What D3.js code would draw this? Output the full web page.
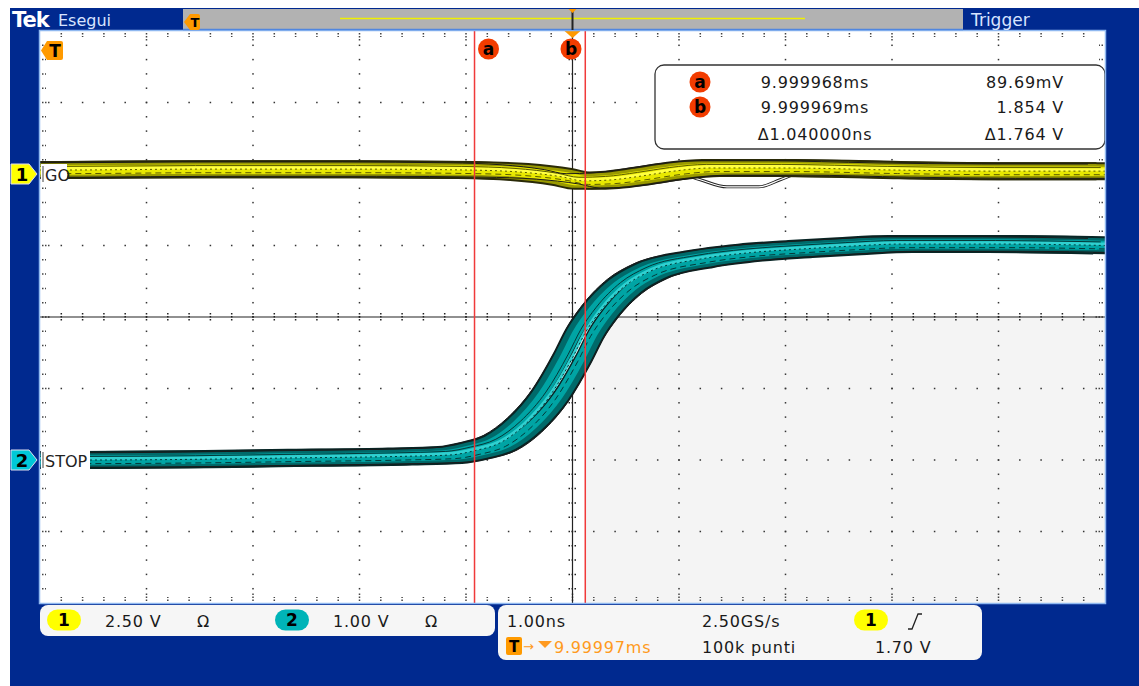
<!DOCTYPE html>
<html>
<head>
<meta charset="utf-8">
<script src="https://cdn.jsdelivr.net/npm/d3@7"></script>
<style>
  html, body { margin: 0; padding: 0; background: #fff; }
  svg text { font-family: "DejaVu Sans", sans-serif; }
</style>
</head>
<body>
<div class="scope"></div>
<script>
'use strict';

// ---- data (time in ns from trigger, volts) ----
var ch1Times = [-5.0, -4.75, -3.5, -2.0, -1.0, -0.5, -0.1, 0.1, 0.35, 0.65, 0.95, 1.3, 2.0, 3.0, 4.0, 5.0];
var ch1Volts = [0.14, 0.14, 0.17, 0.17, 0.14, 0.07, -0.10, -0.24, -0.21, -0.07, 0.10, 0.21, 0.21, 0.14, 0.10, 0.10];

// one stray acquisition under the GO band
var ch1GhostTimes = [1.0, 1.2, 1.45, 1.75, 1.95, 2.1];
var ch1GhostVolts = [0.05, -0.2, -0.45, -0.45, -0.2, 0.02];

var ch2Times = [-5.0, -4.53, -3.5, -2.56, -1.62, -1.15, -0.92, -0.68, -0.45, -0.21, 0.0, 0.12, 0.26, 0.49, 0.73, 1.2, 1.67, 2.14, 2.6, 3.08, 4.01, 5.0];
var ch2Volts = [0.0, 0.0, 0.01, 0.03, 0.05, 0.07, 0.13, 0.24, 0.49, 0.90, 1.43, 1.78, 2.08, 2.43, 2.64, 2.81, 2.90, 2.95, 2.99, 3.02, 3.02, 3.00];

var cursorTimes = [-0.92, 0.12];           // a, b
var cursorNames = ['a', 'b'];
var cursorTimeText = ['9.999968ms', '9.999969ms', '\u03941.040000ns'];
var cursorVoltText = ['89.69mV', '1.854 V', '\u03941.764 V'];

var channelNames = ['GO', 'STOP'];
var channelScale = [2.50, 1.00];            // V/div
var channelPos = [2.0, -2.0];              // div offset
var channelText = ['2.50 V', '1.00 V'];

var horizText = ['1.00ns', '2.50GS/s'];
var recordText = ['9.99997ms', '100k punti'];
var triggerLevelText = '1.70 V';

// ---- layout ----
var W = 1139, H = 686;
var plot = {x0: 40, x1: 1105, y0: 31, y1: 603};
var blue = '#00298f';

var x = d3.scaleLinear().domain([-5, 5]).range([plot.x0, plot.x1]);
var ydiv = d3.scaleLinear().domain([-4, 4]).range([plot.y1, plot.y0]);
function yCh(c) {
  return function(v) { return ydiv(v / channelScale[c] + channelPos[c]); };
}

var svg = d3.select('.scope').append('svg')
  .attr('width', W)
  .attr('height', H);

// frame
svg.append('rect').attr('x', 10).attr('y', 8).attr('width', W - 10).attr('height', H - 8).attr('fill', blue);
svg.append('rect')
  .attr('x', plot.x0).attr('y', plot.y0)
  .attr('width', plot.x1 - plot.x0).attr('height', plot.y1 - plot.y0)
  .attr('fill', '#fff');
svg.append('rect')
  .attr('x', x(cursorTimes[1])).attr('y', ydiv(0))
  .attr('width', plot.x1 - x(cursorTimes[1])).attr('height', plot.y1 - ydiv(0))
  .attr('fill', '#f4f4f4');

svg.append('defs').append('clipPath').attr('id', 'plotclip')
  .append('rect')
  .attr('x', plot.x0).attr('y', plot.y0)
  .attr('width', plot.x1 - plot.x0).attr('height', plot.y1 - plot.y0);

// ---- graticule ----
var grid = svg.append('g').attr('fill', '#333');
var minorX = d3.range(-25, 26).map(function(i) { return i / 5; });
var minorY = d3.range(-20, 21).map(function(i) { return i / 5; });
var majorX = d3.range(-4, 5).filter(function(v) { return v !== 0; });
var majorY = d3.range(-3, 4).filter(function(v) { return v !== 0; });

majorX.forEach(function(t) {
  grid.selectAll(null).data(minorY.slice(1, -1)).enter().append('rect')
    .attr('x', x(t) - 0.75).attr('y', function(d) { return ydiv(d) - 0.75; })
    .attr('width', 1.5).attr('height', 1.5);
});
majorY.forEach(function(dv) {
  grid.selectAll(null).data(minorX.slice(1, -1)).enter().append('rect')
    .attr('x', function(d) { return x(d) - 0.75; }).attr('y', ydiv(dv) - 0.75)
    .attr('width', 1.5).attr('height', 1.5);
});

// edge ticks (dotted)
var ticks = svg.append('g').attr('stroke', '#444').attr('stroke-width', 1.5).attr('stroke-dasharray', '1.5,1.5');
function isMajor(v) { return Math.abs(v - Math.round(v)) < 1e-6; }
ticks.selectAll(null).data(minorX.slice(1, -1)).enter().append('line')
  .attr('x1', function(d) { return x(d); }).attr('x2', function(d) { return x(d); })
  .attr('y1', plot.y0 + 2).attr('y2', function(d) { return plot.y0 + (isMajor(d) ? 11 : 6); });
ticks.selectAll(null).data(minorX.slice(1, -1)).enter().append('line')
  .attr('x1', function(d) { return x(d); }).attr('x2', function(d) { return x(d); })
  .attr('y1', plot.y1 - 2).attr('y2', function(d) { return plot.y1 - (isMajor(d) ? 11 : 6); });
ticks.selectAll(null).data(minorY.slice(1, -1)).enter().append('line')
  .attr('y1', function(d) { return ydiv(d); }).attr('y2', function(d) { return ydiv(d); })
  .attr('x1', plot.x0 + 2).attr('x2', function(d) { return plot.x0 + (isMajor(d) ? 11 : 6); });
ticks.selectAll(null).data(minorY.slice(1, -1)).enter().append('line')
  .attr('y1', function(d) { return ydiv(d); }).attr('y2', function(d) { return ydiv(d); })
  .attr('x1', plot.x1 - 2).attr('x2', function(d) { return plot.x1 - (isMajor(d) ? 11 : 6); });

// centre crosshair
var cross = svg.append('g').attr('stroke', '#222');
cross.append('line').attr('x1', plot.x0).attr('x2', plot.x1).attr('y1', ydiv(0)).attr('y2', ydiv(0)).attr('stroke-width', 1.2);
cross.append('line').attr('y1', plot.y0).attr('y2', plot.y1).attr('x1', x(0)).attr('x2', x(0)).attr('stroke-width', 1.2);
cross.selectAll(null).data(minorX.slice(1, -1)).enter().append('line')
  .attr('x1', function(d) { return x(d); }).attr('x2', function(d) { return x(d); })
  .attr('y1', ydiv(0) - 4).attr('y2', ydiv(0) + 4)
  .attr('stroke-dasharray', '1.5,1.5').attr('stroke-width', 1.5);
cross.selectAll(null).data(minorY.slice(1, -1)).enter().append('line')
  .attr('y1', function(d) { return ydiv(d); }).attr('y2', function(d) { return ydiv(d); })
  .attr('x1', x(0) - 4).attr('x2', x(0) + 4)
  .attr('stroke-dasharray', '1.5,1.5').attr('stroke-width', 1.5);

// ---- traces ----
var traces = svg.append('g').attr('clip-path', 'url(#plotclip)').attr('fill', 'none');

function tracePath(times, volts, c, dt, dv) {
  var yc = yCh(c);
  return d3.line()
    .x(function(d) { return x(d[0] + dt); })
    .y(function(d) { return yc(d[1] + dv); })
    .curve(d3.curveMonotoneX)(d3.zip(times, volts));
}

function drawBand(times, volts, c, cols, spread) {
  function path(dt, dv) { return tracePath(times, volts, c, dt, dv * channelScale[c]); }
  [-spread, spread].forEach(function(dt) {
    traces.append('path').attr('d', path(dt, 0)).attr('stroke', cols.edge).attr('stroke-width', 18);
  });
  [-spread, spread].forEach(function(dt) {
    traces.append('path').attr('d', path(dt, 0)).attr('stroke', cols.dark).attr('stroke-width', 14);
  });
  [-spread * 0.7, spread * 0.7].forEach(function(dt) {
    traces.append('path').attr('d', path(dt, 0)).attr('stroke', cols.fill).attr('stroke-width', 9);
  });
  traces.append('path').attr('d', path(0, 0.02)).attr('stroke', cols.light).attr('stroke-width', 3);
  [[-0.04, 0.05], [0.05, -0.05], [0.0, 0.0]].forEach(function(o, i) {
    traces.append('path').attr('d', path(o[0], o[1]))
      .attr('stroke', cols.line).attr('stroke-width', 1)
      .attr('stroke-dasharray', i === 2 ? '2,3' : (i === 1 ? '6,4' : null));
  });
  [[-0.16, 0.1], [0.16, -0.1]].forEach(function(o) {
    traces.append('path').attr('d', path(o[0], o[1]))
      .attr('stroke', '#1a1a1a').attr('stroke-width', 1);
  });
}

// stray acquisition first, so the band hides the part inside it
traces.append('path').attr('d', tracePath(ch1GhostTimes, ch1GhostVolts, 0, 0, 0))
  .attr('stroke', '#222').attr('stroke-width', 3);
traces.append('path').attr('d', tracePath(ch1GhostTimes, ch1GhostVolts, 0, 0, 0))
  .attr('stroke', '#fff').attr('stroke-width', 1.2);
drawBand(ch1Times, ch1Volts, 0, {edge: '#2a2a08', dark: '#9a9a00', fill: '#e8e800', light: '#ffff40', line: '#5a5a00'}, 0.08);
drawBand(ch2Times, ch2Volts, 1, {edge: '#082626', dark: '#006a6a', fill: '#00a4a4', light: '#30d0d0', line: '#043838'}, 0.11);

// ---- cursors ----
svg.selectAll('.cursor').data(cursorTimes).enter().append('line')
  .attr('class', 'cursor')
  .attr('x1', function(d) { return x(d); }).attr('x2', function(d) { return x(d); })
  .attr('y1', plot.y0).attr('y2', plot.y1)
  .attr('stroke', '#f03a3a').attr('stroke-width', 1.5);

function badge(g, cx, cy, letter) {
  g.append('circle').attr('cx', cx).attr('cy', cy).attr('r', 10.5).attr('fill', '#f23c00');
  g.append('text').attr('x', cx).attr('y', cy + 6).attr('text-anchor', 'middle')
    .attr('font-size', 17).attr('font-weight', 'bold').attr('fill', '#000').text(letter);
}
var cursorBadgeX = [x(cursorTimes[0]) + 14, x(0) - 1.5];
cursorNames.forEach(function(n, i) { badge(svg, cursorBadgeX[i], 49, n); });

// trigger position marker on top of plot
svg.append('path')
  .attr('d', 'M' + (x(0) - 8) + ',' + (plot.y0) + 'h16l-8,7z')
  .attr('fill', '#ff9a00');

// ---- readout box ----
var ro = svg.append('g');
ro.append('rect').attr('x', 655).attr('y', 65).attr('width', 450).attr('height', 84)
  .attr('rx', 9).attr('fill', '#fff').attr('stroke', '#333').attr('stroke-width', 1.3);
var roRows = [88, 113, 140];
cursorNames.forEach(function(n, i) { badge(ro, 700, roRows[i] - 6, n); });
ro.selectAll('.rt').data(cursorTimeText).enter().append('text')
  .attr('x', 815).attr('y', function(d, i) { return roRows[i]; })
  .attr('text-anchor', 'middle').attr('font-size', 16).attr('letter-spacing', 0.8)
  .attr('fill', '#1a1a1a').text(function(d) { return d; });
ro.selectAll('.rv').data(cursorVoltText).enter().append('text')
  .attr('x', 1064).attr('y', function(d, i) { return roRows[i]; })
  .attr('text-anchor', 'end').attr('font-size', 16).attr('letter-spacing', 0.8)
  .attr('fill', '#1a1a1a').text(function(d) { return d; });

// ---- channel markers ----
var chCols = ['#ffff00', '#00c8d8'];
channelNames.forEach(function(name, c) {
  var cy = ydiv(channelPos[c]);
  var lw = c === 0 ? 26 : 49;
  svg.append('rect').attr('x', plot.x0 + 1).attr('y', cy - 10).attr('width', lw).attr('height', 20).attr('fill', '#fff');
  svg.append('path')
    .attr('d', 'M11,' + (cy - 10) + 'h18l8,10l-8,10h-18z')
    .attr('fill', chCols[c]).attr('stroke', '#dde').attr('stroke-width', 1);
  svg.append('text').attr('x', 22).attr('y', cy + 7).attr('text-anchor', 'middle')
    .attr('font-size', 18).attr('font-weight', 'bold').attr('fill', '#000').text(c + 1);
  svg.append('line').attr('x1', plot.x0 + 3).attr('x2', plot.x0 + 3).attr('y1', cy - 8).attr('y2', cy + 8)
    .attr('stroke', '#444').attr('stroke-width', 1);
  svg.append('text').attr('x', plot.x0 + 5).attr('y', cy + 7)
    .attr('font-size', 16).attr('fill', '#222').text(name);
});

// plot border
svg.append('rect')
  .attr('x', plot.x0 - 0.5).attr('y', plot.y0 - 0.5)
  .attr('width', plot.x1 - plot.x0 + 1).attr('height', plot.y1 - plot.y0 + 1)
  .attr('fill', 'none').attr('stroke', '#8fb8f0').attr('stroke-width', 1.5);

// in-plot trigger marker
function trigTag(g, x0, y0, w, h, fs) {
  g.append('path')
    .attr('d', 'M' + x0 + ',' + (y0 + h / 2) + 'l6,' + (-h / 2) + 'h' + (w - 8) + 'q2,0 2,2v' + (h - 4) + 'q0,2 -2,2h' + (-(w - 8)) + 'z')
    .attr('fill', '#ff9a00');
  g.append('text').attr('x', x0 + w / 2 + 3).attr('y', y0 + h / 2 + fs * 0.37).attr('text-anchor', 'middle')
    .attr('font-size', fs).attr('font-weight', 'bold').attr('fill', '#000').text('T');
}
trigTag(svg, 41, 41, 22, 19, 17);

// ---- top bar ----
svg.append('rect').attr('x', 183).attr('y', 9).attr('width', 780).attr('height', 21).attr('fill', '#b2b2b2');
svg.append('line').attr('x1', 183).attr('x2', 963).attr('y1', 29.5).attr('y2', 29.5).attr('stroke', '#4f86e0').attr('stroke-width', 1.5);
var rec = d3.scaleLinear().domain([-5, 5]).range([340, 805]);
svg.append('line').attr('x1', rec(-5)).attr('x2', rec(5)).attr('y1', 18.5).attr('y2', 18.5).attr('stroke', '#f0f000').attr('stroke-width', 1.5);
svg.append('line').attr('x1', x(0)).attr('x2', x(0)).attr('y1', 9).attr('y2', 30).attr('stroke', '#222').attr('stroke-width', 2);
svg.append('path').attr('d', 'M' + (x(0) - 4) + ',9h8l-4,4z').attr('fill', '#ff9a00');
trigTag(svg, 184, 14, 16, 16, 13);

svg.append('text').attr('x', 12).attr('y', 27).attr('font-family', '"DejaVu Serif", serif')
  .attr('font-size', 21).attr('font-weight', 'bold').attr('fill', '#fff').attr('letter-spacing', -1).text('Tek');
svg.append('text').attr('x', 58).attr('y', 26).attr('font-size', 16).attr('fill', '#d8e4ff').text('Esegui');
svg.append('text').attr('x', 971).attr('y', 26).attr('font-size', 17).attr('fill', '#d8e4ff').text('Trigger');

// ---- bottom status boxes ----
var sb = svg.append('g');
sb.append('rect').attr('x', 40).attr('y', 605).attr('width', 455).attr('height', 31).attr('rx', 8).attr('fill', '#f6f6f6');
sb.append('rect').attr('x', 498).attr('y', 605).attr('width', 484).attr('height', 55).attr('rx', 8).attr('fill', '#f6f6f6');

function pill(g, cx, cy, col, label) {
  g.append('rect').attr('x', cx - 17).attr('y', cy - 10.5).attr('width', 34).attr('height', 21).attr('rx', 10.5).attr('fill', col);
  g.append('text').attr('x', cx).attr('y', cy + 6).attr('text-anchor', 'middle')
    .attr('font-size', 17).attr('font-weight', 'bold').attr('fill', '#000').text(label);
}
var pillCols = ['#ffff00', '#00b4b8'];
var chBoxX = [64, 292];
channelText.forEach(function(t, c) {
  pill(sb, chBoxX[c], 620, pillCols[c], c + 1);
  sb.append('text').attr('x', chBoxX[c] + 41).attr('y', 627).attr('font-size', 16).attr('letter-spacing', 0.8)
    .attr('fill', '#1a1a1a').text(t);
  sb.append('text').attr('x', chBoxX[c] + 133).attr('y', 627).attr('font-size', 16)
    .attr('fill', '#1a1a1a').text('\u03a9');
});

sb.append('text').attr('x', 507).attr('y', 627).attr('font-size', 16).attr('letter-spacing', 0.8).attr('fill', '#1a1a1a').text(horizText[0]);
sb.append('text').attr('x', 702).attr('y', 627).attr('font-size', 16).attr('letter-spacing', 0.8).attr('fill', '#1a1a1a').text(horizText[1]);
pill(sb, 871, 620, pillCols[0], 1);
sb.append('polyline').attr('points', '908,629 912,629 918,614 922,614')
  .attr('fill', 'none').attr('stroke', '#222').attr('stroke-width', 1.3);

sb.append('rect').attr('x', 506).attr('y', 637).attr('width', 16).attr('height', 18).attr('rx', 2).attr('fill', '#ff9a00');
sb.append('text').attr('x', 514).attr('y', 652).attr('text-anchor', 'middle').attr('font-size', 15).attr('font-weight', 'bold').attr('fill', '#000').text('T');
sb.append('text').attr('x', 523).attr('y', 651).attr('font-size', 13).attr('fill', '#ff9a20').text('\u2192');
sb.append('path').attr('d', 'M538,641h14l-7,7z').attr('fill', '#ff9a20');
sb.append('text').attr('x', 554).attr('y', 653).attr('font-size', 16).attr('letter-spacing', 0.8).attr('fill', '#ff9a20').text(recordText[0]);
sb.append('text').attr('x', 702).attr('y', 653).attr('font-size', 16).attr('letter-spacing', 0.8).attr('fill', '#1a1a1a').text(recordText[1]);
sb.append('text').attr('x', 875).attr('y', 653).attr('font-size', 16).attr('letter-spacing', 0.8).attr('fill', '#1a1a1a').text(triggerLevelText);
</script>
</body>
</html>
